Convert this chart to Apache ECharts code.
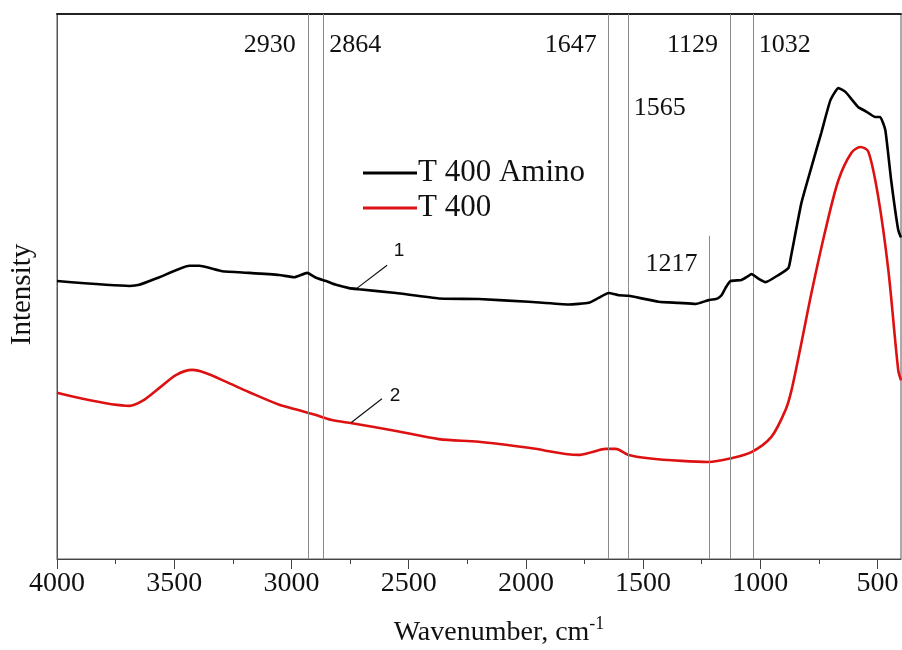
<!DOCTYPE html>
<html><head><meta charset="utf-8">
<script src="https://cdn.jsdelivr.net/npm/echarts@6/dist/echarts.min.js"></script>
<style>html,body{margin:0;padding:0;background:#fff}#c{width:902px;height:650px}</style>
</head><body><div id="c"></div>
<script>
const blackX = [4000,3691,3649,3563,3436,3393,3295,3180,3052,2988,2933,2895,2852,2810,2754,2712,2554,2371,2201,1988,1817,1732,1690,1647,1604,1562,1434,1349,1276,1221,1190,1179,1164,1149,1128,1080,1052,1038,1010,978,923,880,868,825,782,740,701,667,637,582,552,510,489,467,442,412,400];
const blackY = [51.0,50.1,50.3,51.7,53.8,53.8,52.8,52.5,52.1,51.7,52.5,51.6,51.0,50.3,49.7,49.5,48.8,47.8,47.7,47.2,46.7,47.0,47.9,48.8,48.4,48.3,47.2,47.0,46.8,47.5,47.7,47.9,48.5,49.7,51.0,51.2,51.9,52.3,51.5,50.8,52.1,53.4,55.8,65.3,71.9,78.2,84.2,86.4,85.7,82.9,82.2,81.1,81.1,78.7,69.5,60.4,59.0];
const redX = [4000,3691,3636,3563,3491,3423,3363,3278,3180,3052,2967,2895,2827,2742,2554,2371,2201,1988,1775,1720,1660,1617,1562,1477,1336,1221,1123,1038,953,893,868,825,782,722,667,612,573,539,497,454,412,400];
const redY = [30.5,28.1,29.0,31.4,33.8,34.7,34.1,32.5,30.6,28.3,27.3,26.4,25.5,24.9,23.5,22.0,21.5,20.4,19.1,19.6,20.2,20.2,19.1,18.5,18.0,17.8,18.5,19.6,22.4,27.3,30.8,39.6,48.8,60.4,69.5,74.5,75.6,74.7,66.4,53.0,34.7,32.8];
const seriesNames = ['T 400 Amino', 'T 400'];
const tickValues = [4000,3500,3000,2500,2000,1500,1000,500];
const minorTickValues = [3750,3250,2750,2250,1750,1250,750];
const peaks = [2930, 2864, 1647, 1565, 1217, 1129, 1032];
const peakLineTop = [100, 100, 100, 100, 59.3, 100, 100];
const peakLabelY = [94.3, 94.3, 94.3, 82.8, 54.1, 94.3, 94.3];
const peakLabelSide = ['left','right','left','right','left','left','right'];
const curveLabels = ['1', '2'];
const curveLabelLeader = [[[2720,49.7],[2592,53.9]], [[2746,25.0],[2614,29.4]]];
const curveLabelPos = [[2541,56.6],[2558,30.0]];

const chart = echarts.init(document.getElementById('c'), null, {renderer:'canvas'});
const serif = 'Liberation Serif';
const zip = (xs, ys) => xs.map((x,i)=>[x, ys[i]]);

const peakLines = peaks.map((p,i)=>[{coord:[p,0]},{coord:[p,peakLineTop[i]]}]);
const peakPoints = peaks.map((p,i)=>({
  coord:[p, peakLabelY[i]], value: String(p),
  label:{show:true, formatter:String(p), position:'inside',
    align: peakLabelSide[i]==='left' ? 'right' : 'left',
    offset: [peakLabelSide[i]==='left' ? -12 : 6, 0],
    fontFamily: serif, fontSize: 26, color:'#111'}
}));
const curveLeaders = curveLabelLeader.map(s=>[{coord:s[0]},{coord:s[1]}]);
const curvePoints = curveLabels.map((t,i)=>({
  coord: curveLabelPos[i], value: t,
  label:{show:true, formatter:t, position:'inside', fontFamily:'Liberation Sans', fontSize:19, color:'#111'}
}));

chart.setOption({
  animation:false,
  grid:{left:57, right:1, top:14, bottom:91, show:true, borderColor:'#555', borderWidth:1,
        outerBoundsMode:'none', containLabel:false},
  legend:{
    orient:'vertical', left:358, top:152, data:seriesNames,
    icon:'rect', itemWidth:54, itemHeight:3, itemGap:3,
    textStyle:{fontFamily:serif, fontSize:31, color:'#111', lineHeight:32, padding:[0,0,0,-4]}
  },
  xAxis:[{
    type:'value', inverse:true, min:400, max:4000,
    axisLine:{show:true, lineStyle:{color:'#444', width:1}},
    axisTick:{show:true, inside:false, customValues:tickValues, length:10, lineStyle:{color:'#444'}},
    axisLabel:{customValues:tickValues, formatter:(v)=>String(v), fontFamily:serif, fontSize:28, color:'#111', margin:11},
    splitLine:{show:false},
    name:'{a|Wavenumber, cm}{s|-1}', nameLocation:'middle', nameGap:56,
    nameTextStyle:{padding:[0,0,0,40], rich:{
      a:{fontFamily:serif, fontSize:28, color:'#111'},
      s:{fontFamily:serif, fontSize:18, color:'#111', verticalAlign:'top', padding:[0,0,18,0]}
    }}
  },{
    type:'value', inverse:true, min:400, max:4000, position:'bottom', offset:0,
    axisLine:{show:false},
    axisTick:{show:true, inside:false, customValues:minorTickValues, length:5, lineStyle:{color:'#444'}},
    axisLabel:{show:false}, splitLine:{show:false}
  },{
    type:'value', inverse:true, min:400, max:4000, position:'top',
    axisLine:{show:true, lineStyle:{color:'#222', width:2}},
    axisTick:{show:false}, axisLabel:{show:false}, splitLine:{show:false}
  }],
  yAxis:{
    type:'value', min:0, max:100,
    axisLine:{show:true, lineStyle:{color:'#555'}}, axisTick:{show:false}, axisLabel:{show:false},
    splitLine:{show:false},
    name:'Intensity', nameLocation:'middle', nameGap:20,
    nameTextStyle:{fontFamily:serif, fontSize:29, color:'#111', padding:[0,0,0,-16]}
  },
  series:[
    {name:seriesNames[0], type:'line', data:zip(blackX, blackY), showSymbol:false, symbol:'none',
     lineStyle:{color:'#000', width:2.6}, itemStyle:{color:'#000'}, smooth:0.15, z:5,
     markLine:{silent:true, symbol:'none', label:{show:false},
       lineStyle:{color:'#8a8a8a', width:1, type:'solid'}, data:peakLines},
     markPoint:{silent:true, symbol:'circle', symbolSize:0, data:peakPoints}
    },
    {name:seriesNames[1], type:'line', data:zip(redX, redY), showSymbol:false, symbol:'none',
     lineStyle:{color:'#dd1111', width:2.6}, itemStyle:{color:'#dd1111'}, smooth:0.3, z:4,
     markLine:{silent:true, symbol:'none', label:{show:false},
       lineStyle:{color:'#111', width:1.2, type:'solid'}, data:curveLeaders},
     markPoint:{silent:true, symbol:'circle', symbolSize:0, data:curvePoints}
    }
  ]
});
</script></body></html>
